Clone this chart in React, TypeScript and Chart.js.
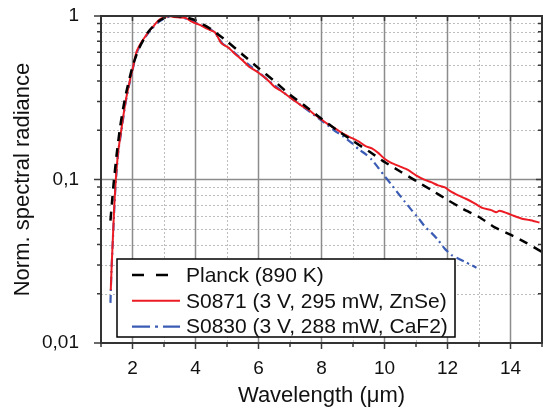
import { useEffect, useRef } from "react";
import { Chart, registerables } from "chart.js";
Chart.register(...registerables);

const FONT = "'Liberation Sans', Arial, sans-serif";

const xTickValues = [2, 4, 6, 8, 10, 12, 14];
const yTickValues = [0.01, 0.1, 1];
const yTickLabels = ["0,01", "0,1", "1"];

const planckX = [1.3, 1.35, 1.4, 1.5, 1.6, 1.7, 1.8, 2.0, 2.2, 2.5, 2.8, 3.0, 3.3, 3.6, 4.0, 4.5, 5.0, 5.5, 6.0, 6.5, 7.0, 7.5, 8.0, 8.5, 9.0, 9.5, 10, 10.5, 11, 11.5, 12, 12.5, 13, 13.5, 14, 14.5, 15];
const planckY = [0.056, 0.073, 0.094, 0.144, 0.205, 0.27, 0.34, 0.49, 0.63, 0.8, 0.92, 0.97, 1.0, 0.99, 0.94, 0.83, 0.7, 0.58, 0.48, 0.4, 0.33, 0.28, 0.235, 0.2, 0.172, 0.149, 0.128, 0.112, 0.098, 0.086, 0.075, 0.066, 0.059, 0.051, 0.046, 0.041, 0.036];

const s0871X = [1.31, 1.34, 1.38, 1.42, 1.47, 1.55, 1.65, 1.78, 1.92, 2.0, 2.13, 2.3, 2.44, 2.55, 2.65, 2.8, 2.92, 3.05, 3.18, 3.3, 3.5, 3.7, 3.85, 4.02, 4.2, 4.34, 4.5, 4.6, 4.7, 4.8, 4.9, 5.05, 5.18, 5.35, 5.5, 5.7, 5.85, 6.0, 6.2, 6.34, 6.5, 6.7, 6.97, 7.2, 7.4, 7.6, 7.8, 8.02, 8.2, 8.44, 8.7, 8.97, 9.2, 9.4, 9.6, 9.81, 10.0, 10.23, 10.5, 10.76, 11.0, 11.28, 11.5, 11.7, 11.92, 12.1, 12.34, 12.6, 12.86, 13.1, 13.39, 13.55, 13.65, 13.9, 14.1, 14.34, 14.6, 14.92];
const s0871Y = [0.021, 0.03, 0.045, 0.068, 0.1, 0.15, 0.205, 0.3, 0.406, 0.47, 0.605, 0.7, 0.765, 0.82, 0.86, 0.93, 0.968, 0.99, 1.0, 0.985, 0.98, 0.97, 0.93, 0.9, 0.87, 0.84, 0.815, 0.8, 0.75, 0.69, 0.665, 0.64, 0.605, 0.565, 0.535, 0.49, 0.47, 0.45, 0.42, 0.397, 0.37, 0.35, 0.321, 0.298, 0.28, 0.266, 0.248, 0.231, 0.218, 0.205, 0.19, 0.179, 0.17, 0.16, 0.155, 0.145, 0.134, 0.126, 0.12, 0.114, 0.106, 0.0994, 0.096, 0.092, 0.0895, 0.0845, 0.08, 0.076, 0.0715, 0.067, 0.065, 0.063, 0.0645, 0.0622, 0.06, 0.0578, 0.0565, 0.0546];

const s0830X = [1.3, 1.33, 1.37, 1.42, 1.47, 1.55, 1.65, 1.78, 1.92, 2.0, 2.13, 2.3, 2.44, 2.6, 2.8, 3.0, 3.2, 3.4, 3.6, 3.8, 4.0, 4.2, 4.4, 4.55, 4.7, 4.85, 5.0, 5.2, 5.5, 5.8, 6.0, 6.3, 6.6, 7.0, 7.4, 7.8, 8.1, 8.4, 8.7, 9.0, 9.18, 9.4, 9.6, 9.8, 10.02, 10.2, 10.44, 10.65, 10.86, 11.08, 11.28, 11.5, 11.7, 11.9, 12.13, 12.35, 12.55, 12.75, 12.92];
const s0830Y = [0.0176, 0.027, 0.04, 0.065, 0.097, 0.148, 0.2, 0.295, 0.4, 0.465, 0.595, 0.69, 0.76, 0.83, 0.91, 0.965, 0.995, 0.995, 0.975, 0.95, 0.91, 0.875, 0.84, 0.81, 0.75, 0.68, 0.65, 0.605, 0.54, 0.485, 0.455, 0.405, 0.365, 0.318, 0.28, 0.245, 0.222, 0.2, 0.183, 0.165, 0.153, 0.143, 0.132, 0.118, 0.104, 0.094, 0.082, 0.073, 0.065, 0.058, 0.0516, 0.047, 0.0427, 0.038, 0.0345, 0.0328, 0.0314, 0.03, 0.0289];

const seriesLabels = ["Planck (890 K)", "S0871 (3 V, 295 mW, ZnSe)", "S0830 (3 V, 288 mW, CaF2)"];
const seriesColors = ["#000000", "#ec1c24", "#3b5cb4"];
const seriesDash = [[9, 7], [], [8, 4, 2, 4]];
const legendDash = [[12, 12], [], [18, 5, 3, 5]];
const seriesWidth = [2.5, 2, 2.2];

const toPoints = (xs: number[], ys: number[]) => xs.map((x, i) => ({ x, y: ys[i] }));

const framePlugin = {
  id: "frame",
  beforeDatasetsDraw(chart: any) {
    const { ctx, chartArea: a, scales } = chart;
    const xs = scales.x, ys = scales.y;
    ctx.save();
    ctx.strokeStyle = "#bdbdbd";
    ctx.lineWidth = 1;
    ctx.setLineDash([2, 2]);
    ctx.beginPath();
    for (let v = 1; v <= 15; v++) {
      if (v % 2 === 0) continue;
      const px = Math.round(xs.getPixelForValue(v)) + 0.5;
      ctx.moveTo(px, a.top); ctx.lineTo(px, a.bottom);
    }
    for (const d of [0.01, 0.1]) {
      for (let m = 2; m <= 9; m++) {
        const py = Math.round(ys.getPixelForValue(m * d)) + 0.5;
        ctx.moveTo(a.left, py); ctx.lineTo(a.right, py);
      }
    }
    ctx.stroke();
    ctx.setLineDash([]);
    ctx.strokeStyle = "#8c8c8c";
    ctx.lineWidth = 1.5;
    ctx.beginPath();
    for (const v of xTickValues) {
      const px = xs.getPixelForValue(v);
      ctx.moveTo(px, a.top); ctx.lineTo(px, a.bottom);
    }
    const py1 = ys.getPixelForValue(0.1);
    ctx.moveTo(a.left, py1); ctx.lineTo(a.right, py1);
    ctx.stroke();
    ctx.restore();
  },
  afterDatasetsDraw(chart: any) {
    const { ctx, chartArea: a, scales } = chart;
    const xs = scales.x, ys = scales.y;
    ctx.save();
    ctx.setLineDash([]);
    ctx.strokeStyle = "#3a3a3a";
    ctx.lineWidth = 1.5;
    ctx.beginPath();
    for (let v = 1; v <= 15; v++) {
      const px = xs.getPixelForValue(v);
      const major = v % 2 === 0;
      ctx.moveTo(px, a.bottom); ctx.lineTo(px, a.bottom + (major ? 6 : 4));
      ctx.moveTo(px, a.top); ctx.lineTo(px, a.top + (major ? 5 : 3));
    }
    for (const d of [0.01, 0.1, 1]) {
      for (let m = 1; m <= 9; m++) {
        const val = m * d;
        if (val > 1.0001) break;
        const py = ys.getPixelForValue(val);
        const major = m === 1;
        ctx.moveTo(a.left, py); ctx.lineTo(a.left - (major ? 7 : 4), py);
        ctx.moveTo(a.right, py); ctx.lineTo(a.right - (major ? 6 : 4), py);
      }
    }
    ctx.stroke();
    ctx.strokeStyle = "#333333";
    ctx.lineWidth = 2;
    ctx.strokeRect(a.left, a.top, a.right - a.left, a.bottom - a.top);

    const lx = a.left + 16, ly = a.top + 243, lw = 338, lh = 78;
    ctx.fillStyle = "#ffffff";
    ctx.fillRect(lx, ly, lw, lh);
    ctx.strokeStyle = "#000000";
    ctx.lineWidth = 1.5;
    ctx.strokeRect(lx, ly, lw, lh);
    ctx.font = `21px ${FONT}`;
    ctx.textBaseline = "middle";
    ctx.textAlign = "left";
    seriesLabels.forEach((label, i) => {
      const rowY = ly + 16 + i * 25.8;
      ctx.strokeStyle = seriesColors[i];
      ctx.lineWidth = seriesWidth[i];
      ctx.setLineDash(legendDash[i]);
      ctx.beginPath();
      ctx.moveTo(lx + 15, rowY);
      ctx.lineTo(lx + 63, rowY);
      ctx.stroke();
      ctx.setLineDash([]);
      ctx.fillStyle = "#111111";
      ctx.fillText(label, lx + 69, rowY + 1);
    });
    ctx.restore();
  },
};

export default function App() {
  const ref = useRef<HTMLCanvasElement | null>(null);
  useEffect(() => {
    if (!ref.current) return;
    const datasets = [
      toPoints(planckX, planckY),
      toPoints(s0871X, s0871Y),
      toPoints(s0830X, s0830Y),
    ].map((data, i) => ({
      label: seriesLabels[i],
      data,
      borderColor: seriesColors[i],
      backgroundColor: seriesColors[i],
      borderDash: seriesDash[i],
      borderWidth: seriesWidth[i],
      pointRadius: 0,
      tension: 0.2,
      fill: false,
    }));
    const chart = new Chart(ref.current, {
      type: "line",
      data: { datasets },
      options: {
        animation: false,
        responsive: false,
        maintainAspectRatio: false,
        layout: { padding: { top: 16, right: 1, left: 0, bottom: 0 } },
        plugins: { legend: { display: false }, tooltip: { enabled: false } },
        scales: {
          x: {
            type: "linear",
            min: 1,
            max: 15,
            afterBuildTicks: (s: any) => { s.ticks = xTickValues.map((v) => ({ value: v })); },
            afterFit: (s: any) => { s.height = 69; s.paddingLeft = 0; s.paddingRight = 0; },
            grid: { display: false },
            border: { display: false },
            ticks: {
              autoSkip: false,
              maxRotation: 0,
              padding: 6,
              color: "#111111",
              font: { family: FONT, size: 19 },
              callback: (v: any) => String(v),
            },
            title: {
              display: true,
              text: "Wavelength (μm)",
              color: "#111111",
              font: { family: FONT, size: 22 },
              padding: { top: 0, bottom: 3 },
            },
          },
          y: {
            type: "logarithmic",
            min: 0.01,
            max: 1,
            afterBuildTicks: (s: any) => { s.ticks = yTickValues.map((v) => ({ value: v })); },
            afterFit: (s: any) => { s.width = 101; s.paddingTop = 0; s.paddingBottom = 0; },
            grid: { display: false },
            border: { display: false },
            ticks: {
              autoSkip: false,
              padding: 14,
              color: "#111111",
              font: { family: FONT, size: 19 },
              callback: (v: any) => {
                const idx = yTickValues.findIndex((t) => Math.abs(t - Number(v)) < 1e-9);
                return idx >= 0 ? yTickLabels[idx] : "";
              },
            },
            title: {
              display: true,
              text: "Norm. spectral radiance",
              color: "#111111",
              font: { family: FONT, size: 22 },
              padding: { top: 10, bottom: 0 },
            },
          },
        },
      },
      plugins: [framePlugin],
    });
    return () => chart.destroy();
  }, []);
  return (
    <div style={{ position: "fixed", left: 0, top: 0, width: 543, height: 412, background: "#ffffff" }}>
      <canvas ref={ref} width={543} height={412} style={{ width: 543, height: 412, display: "block" }} />
    </div>
  );
}
